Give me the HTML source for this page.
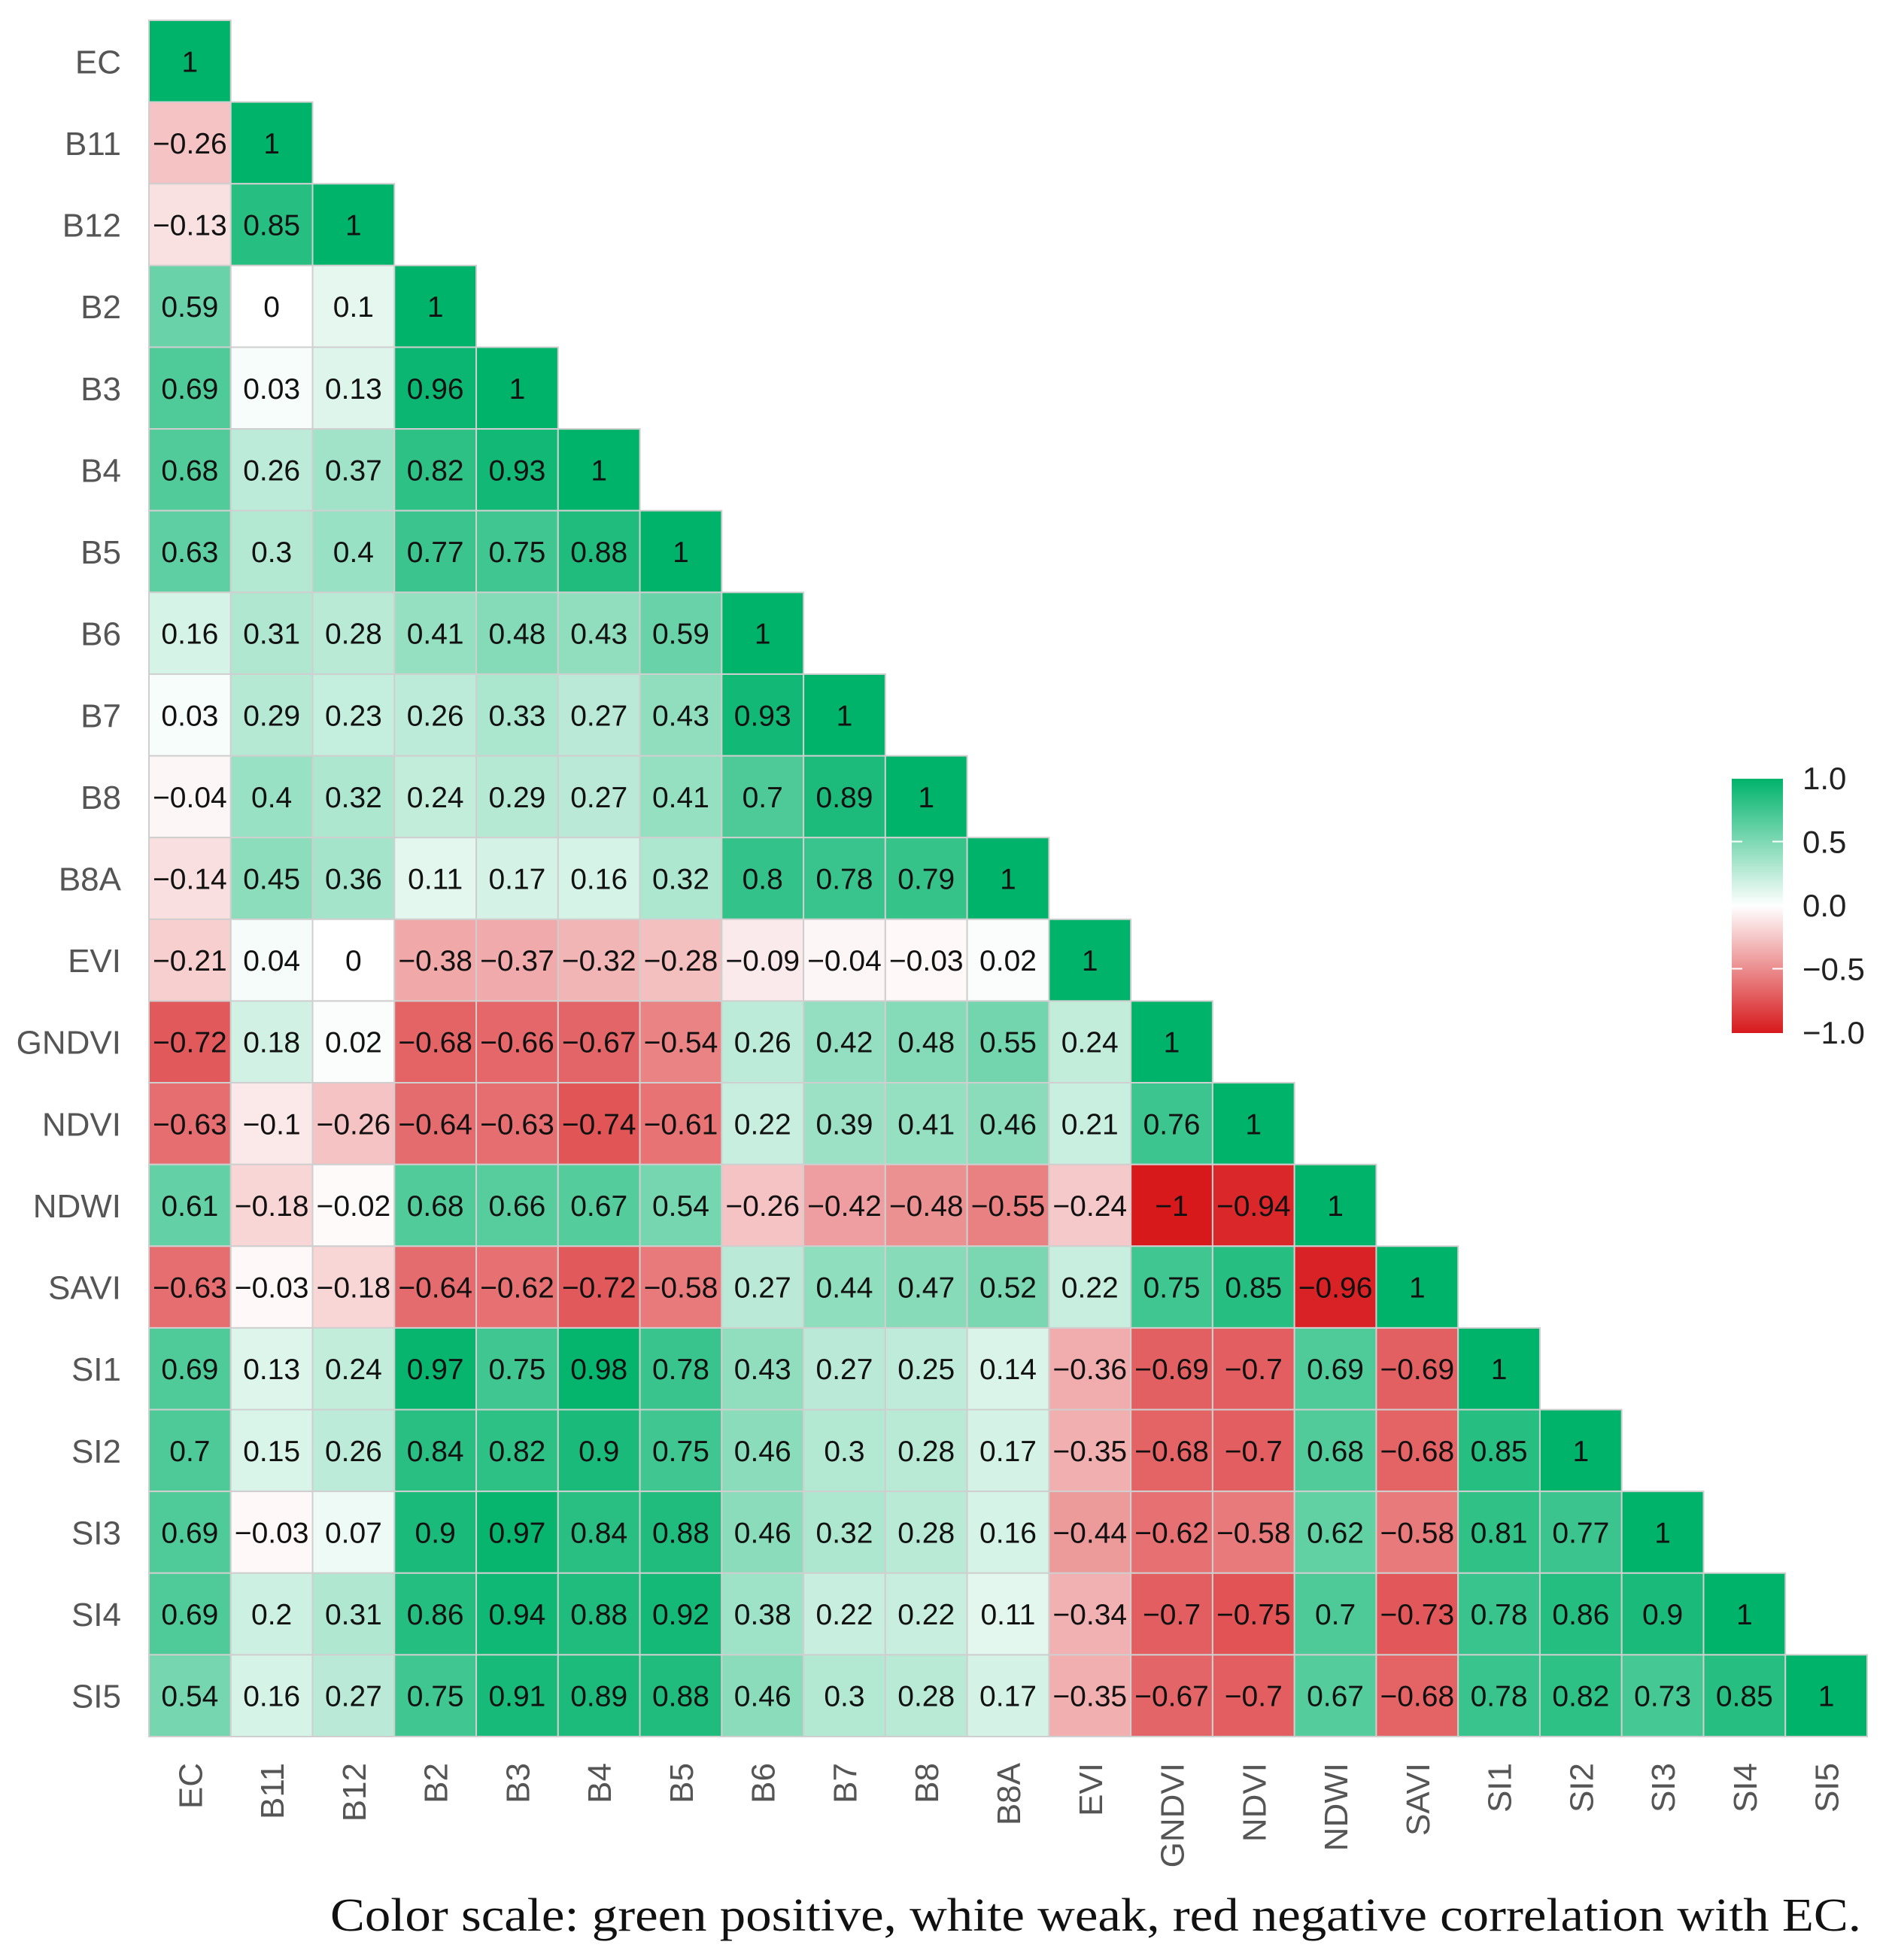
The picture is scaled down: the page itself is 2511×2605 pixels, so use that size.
<!DOCTYPE html>
<html><head><meta charset="utf-8"><style>
html,body{margin:0;padding:0;background:#fff;}
svg{display:block;}
</style></head><body>
<svg id="chart" xmlns="http://www.w3.org/2000/svg" width="2511" height="2605" viewBox="0 0 2511 2605">
<defs>
<linearGradient id="cbar" x1="0" y1="0" x2="0" y2="1">
<stop offset="0" stop-color="#00b36b"/>
<stop offset="0.5" stop-color="#ffffff"/>
<stop offset="1" stop-color="#d7191c"/>
</linearGradient>
</defs>
<g id="cells"></g>
<g id="ylabels"></g>
<g id="xlabels"></g>
<g id="legend">
<rect x="2302" y="1035" width="68" height="338" fill="url(#cbar)"/>
</g>
<text x="2474" y="2566" text-anchor="end" textLength="2035" lengthAdjust="spacingAndGlyphs" font-family="Liberation Serif, serif" font-size="62" fill="#111">Color scale: green positive, white weak, red negative correlation with EC.</text>
</svg>
<script>
const variables = ["EC","B11","B12","B2","B3","B4","B5","B6","B7","B8","B8A","EVI","GNDVI","NDVI","NDWI","SAVI","SI1","SI2","SI3","SI4","SI5"];
const rowEC = [1];
const rowB11 = [-0.26,1];
const rowB12 = [-0.13,0.85,1];
const rowB2 = [0.59,0,0.1,1];
const rowB3 = [0.69,0.03,0.13,0.96,1];
const rowB4 = [0.68,0.26,0.37,0.82,0.93,1];
const rowB5 = [0.63,0.3,0.4,0.77,0.75,0.88,1];
const rowB6 = [0.16,0.31,0.28,0.41,0.48,0.43,0.59,1];
const rowB7 = [0.03,0.29,0.23,0.26,0.33,0.27,0.43,0.93,1];
const rowB8 = [-0.04,0.4,0.32,0.24,0.29,0.27,0.41,0.7,0.89,1];
const rowB8A = [-0.14,0.45,0.36,0.11,0.17,0.16,0.32,0.8,0.78,0.79,1];
const rowEVI = [-0.21,0.04,0,-0.38,-0.37,-0.32,-0.28,-0.09,-0.04,-0.03,0.02,1];
const rowGNDVI = [-0.72,0.18,0.02,-0.68,-0.66,-0.67,-0.54,0.26,0.42,0.48,0.55,0.24,1];
const rowNDVI = [-0.63,-0.1,-0.26,-0.64,-0.63,-0.74,-0.61,0.22,0.39,0.41,0.46,0.21,0.76,1];
const rowNDWI = [0.61,-0.18,-0.02,0.68,0.66,0.67,0.54,-0.26,-0.42,-0.48,-0.55,-0.24,-1,-0.94,1];
const rowSAVI = [-0.63,-0.03,-0.18,-0.64,-0.62,-0.72,-0.58,0.27,0.44,0.47,0.52,0.22,0.75,0.85,-0.96,1];
const rowSI1 = [0.69,0.13,0.24,0.97,0.75,0.98,0.78,0.43,0.27,0.25,0.14,-0.36,-0.69,-0.7,0.69,-0.69,1];
const rowSI2 = [0.7,0.15,0.26,0.84,0.82,0.9,0.75,0.46,0.3,0.28,0.17,-0.35,-0.68,-0.7,0.68,-0.68,0.85,1];
const rowSI3 = [0.69,-0.03,0.07,0.9,0.97,0.84,0.88,0.46,0.32,0.28,0.16,-0.44,-0.62,-0.58,0.62,-0.58,0.81,0.77,1];
const rowSI4 = [0.69,0.2,0.31,0.86,0.94,0.88,0.92,0.38,0.22,0.22,0.11,-0.34,-0.7,-0.75,0.7,-0.73,0.78,0.86,0.9,1];
const rowSI5 = [0.54,0.16,0.27,0.75,0.91,0.89,0.88,0.46,0.3,0.28,0.17,-0.35,-0.67,-0.7,0.67,-0.68,0.78,0.82,0.73,0.85,1];
const matrix = [rowEC,rowB11,rowB12,rowB2,rowB3,rowB4,rowB5,rowB6,rowB7,rowB8,rowB8A,rowEVI,rowGNDVI,rowNDVI,rowNDWI,rowSAVI,rowSI1,rowSI2,rowSI3,rowSI4,rowSI5];
const legendTicks = [1.0,0.5,0.0,-0.5,-1.0];

const NS = "http://www.w3.org/2000/svg";
const X0 = 198, Y0 = 27, W = 2284, H = 2281;
const n = variables.length;
const cw = W / n, ch = H / n;
const xPos = i => X0 + i * cw;
const yPos = j => Y0 + j * ch;
const legendY = v => 1203 - v * 169;
function color(v){
  const t = Math.min(1, Math.abs(v));
  const c = v >= 0 ? [0,179,107] : [215,25,28];
  const r = Math.round(255 + (c[0]-255)*t), g = Math.round(255 + (c[1]-255)*t), b = Math.round(255 + (c[2]-255)*t);
  return `rgb(${r},${g},${b})`;
}
function fmt(v){ return (v < 0 ? "\u2212" : "") + String(Math.abs(v)); }
function mk(tag, attrs, parent){
  const e = document.createElementNS(NS, tag);
  for (const k in attrs) e.setAttribute(k, attrs[k]);
  parent.appendChild(e);
  return e;
}
const cells = document.getElementById("cells");
matrix.forEach((row, j) => {
  row.forEach((v, i) => {
    const r = mk("rect", {x: xPos(i), y: yPos(j), width: cw, height: ch, fill: color(v), stroke: "#cfcfcf", "stroke-width": 2}, cells);
    
    
    const t = mk("text", {x: xPos(i) + cw/2, y: yPos(j) + ch/2 + 14, "text-anchor": "middle", "font-family": "Liberation Sans, sans-serif", "font-size": 39, fill: "#111"}, cells);
    t.textContent = fmt(v);
    
    
  });
});
const yl = document.getElementById("ylabels");
variables.forEach((name, j) => {
  const t = mk("text", {x: 161, y: yPos(j) + ch/2 + 16, "text-anchor": "end", "font-family": "Liberation Sans, sans-serif", "font-size": 44, fill: "#555"}, yl);
  t.textContent = name;
  
  
});
const xl = document.getElementById("xlabels");
variables.forEach((name, i) => {
  const cx = xPos(i) + cw/2 + 16, y = 2343;
  const t = mk("text", {x: cx, y: y, "text-anchor": "end", transform: `rotate(-90 ${cx} ${y})`, "font-family": "Liberation Sans, sans-serif", "font-size": 44, fill: "#555"}, xl);
  t.textContent = name;
  
  
});
const lg = document.getElementById("legend");
legendTicks.forEach(v => {
  const y = legendY(v);
  if (Math.abs(v) < 1 && v !== 0) {
    const a = mk("line", {x1: 2302, x2: 2316, y1: y, y2: y, stroke: "#fff", "stroke-width": 2}, lg);
    
    
    const b = mk("line", {x1: 2356, x2: 2370, y1: y, y2: y, stroke: "#fff", "stroke-width": 2}, lg);
    
    
  }
  const t = mk("text", {x: 2396, y: y + 15, "font-family": "Liberation Sans, sans-serif", "font-size": 42, fill: "#222"}, lg);
  t.textContent = (v < 0 ? "\u2212" : "") + Math.abs(v).toFixed(1);
  
  
});
</script>
</body></html>
